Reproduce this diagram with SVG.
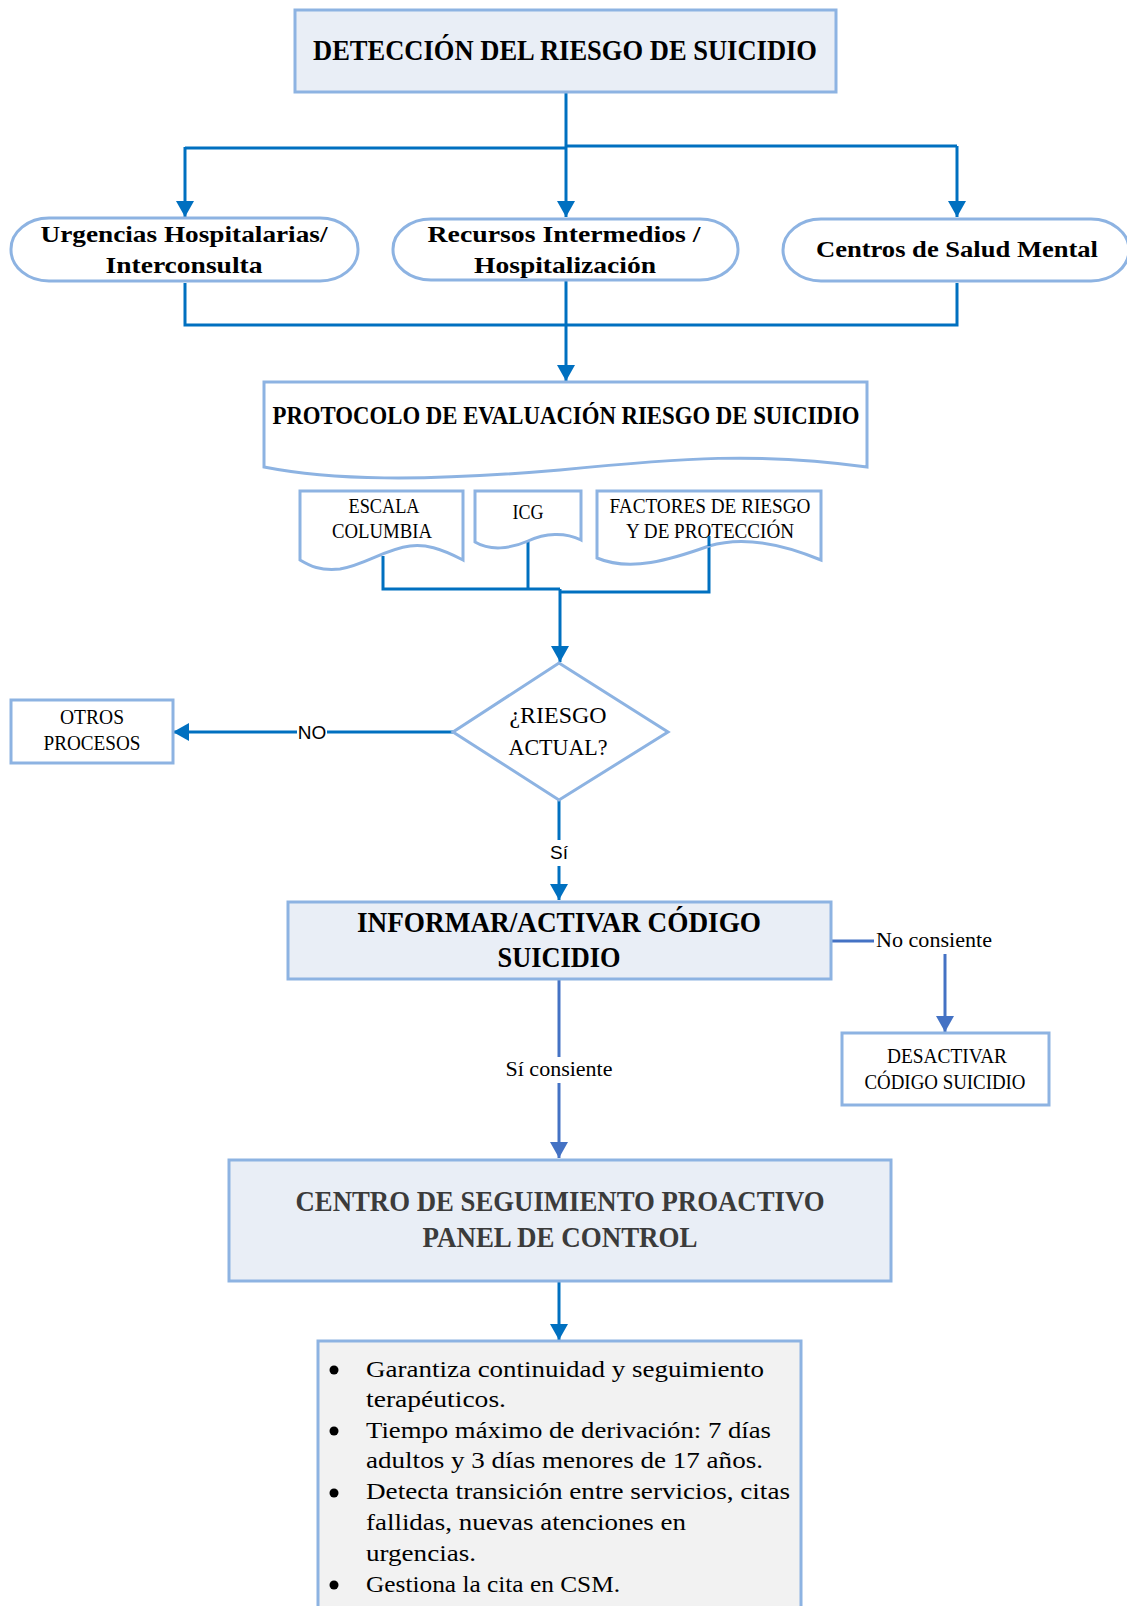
<svg xmlns="http://www.w3.org/2000/svg" width="1127" height="1606" viewBox="0 0 1127 1606">
<style>
  .node{stroke:#8db3e2;stroke-width:3;fill:#ffffff}
  .fillb{fill:#e9eef6}
  .fillg{fill:#f2f2f2}
  .t{font-family:"Liberation Serif","Times New Roman",serif;fill:#000;text-anchor:middle}
  .b{font-weight:bold}
  .l{text-anchor:start}
  .s{font-family:"Liberation Sans",Arial,sans-serif;fill:#000;text-anchor:middle}
  .c{fill:none;stroke:#0070c0;stroke-width:3}
  .c2{fill:none;stroke:#4472c4;stroke-width:3}
</style>
<defs>
  <marker id="a" viewBox="0 0 16 18" refX="16" refY="9" markerWidth="16" markerHeight="18" markerUnits="userSpaceOnUse" orient="auto">
    <path d="M0,0 L16,9 L0,18 z" fill="#0070c0"/>
  </marker>
  <marker id="a2" viewBox="0 0 16 18" refX="16" refY="9" markerWidth="16" markerHeight="18" markerUnits="userSpaceOnUse" orient="auto">
    <path d="M0,0 L16,9 L0,18 z" fill="#4472c4"/>
  </marker>
</defs>

<g id="connectors">
  <path class="c" d="M566,92 V147"/>
  <path class="c" d="M185,148 H566"/>
  <path class="c" d="M566,146 H957"/>
  <path class="c" d="M185,147 V217" marker-end="url(#a)"/>
  <path class="c" d="M566,147 V217" marker-end="url(#a)"/>
  <path class="c" d="M957,146 V217" marker-end="url(#a)"/>
  <path class="c" d="M185,283 V325 H957 V283"/>
  <path class="c" d="M566,281 V381" marker-end="url(#a)"/>
  <path class="c" d="M383,556 V589 H560"/>
  <path class="c" d="M528,541 V589"/>
  <path class="c" d="M709,536 V592 H560"/>
  <path class="c" d="M560,589 V662" stroke-width="4.5" marker-end="url(#a)"/>
  <path class="c" d="M453,732 H173" marker-end="url(#a)"/>
  <path class="c" d="M559,800 V900" marker-end="url(#a)"/>
  <path class="c2" d="M831,941 H874"/>
  <path class="c2" d="M945,954 V1032" marker-end="url(#a2)"/>
  <path class="c2" d="M559,979 V1158" marker-end="url(#a2)"/>
  <path class="c" d="M559,1281 V1340" marker-end="url(#a)"/>
  <rect x="297" y="718" width="30" height="24" fill="#fff"/>
  <text class="s" x="312" y="739" font-size="19">NO</text>
  <rect x="548" y="840" width="22" height="26" fill="#fff"/>
  <text class="s" x="559" y="859" font-size="19">Sí</text>
  <text class="t l" x="876" y="947" font-size="20" textLength="116" lengthAdjust="spacingAndGlyphs">No consiente</text>
  <rect x="502" y="1057" width="114" height="26" fill="#fff"/>
  <text class="t" x="559" y="1076" font-size="20" textLength="107" lengthAdjust="spacingAndGlyphs">Sí consiente</text>
</g>

<g id="n-deteccion">
  <rect class="node fillb" x="295" y="10" width="541" height="82"/>
  <text class="t b" x="565" y="60" font-size="29" textLength="504" lengthAdjust="spacingAndGlyphs">DETECCIÓN DEL RIESGO DE SUICIDIO</text>
</g>

<g id="n-urgencias">
  <rect class="node" x="11" y="218" width="347" height="63" rx="38" ry="31" stroke-width="4"/>
  <text class="t b" x="184" y="242" font-size="24" textLength="287" lengthAdjust="spacingAndGlyphs">Urgencias Hospitalarias/</text>
  <text class="t b" x="184" y="273" font-size="24" textLength="157" lengthAdjust="spacingAndGlyphs">Interconsulta</text>
</g>

<g id="n-recursos">
  <rect class="node" x="393" y="219" width="345" height="61" rx="38" ry="30"/>
  <text class="t b" x="564" y="242" font-size="24" textLength="273" lengthAdjust="spacingAndGlyphs">Recursos Intermedios /</text>
  <text class="t b" x="565" y="273" font-size="24" textLength="182" lengthAdjust="spacingAndGlyphs">Hospitalización</text>
</g>

<g id="n-centros">
  <rect class="node" x="783" y="219" width="346" height="62" rx="38" ry="31"/>
  <text class="t b" x="957" y="257" font-size="24" textLength="282" lengthAdjust="spacingAndGlyphs">Centros de Salud Mental</text>
</g>

<g id="n-protocolo">
  <path class="node" d="M264,382 H867 V467 C760,452 680,458 560,470 C420,482 330,480 264,467 Z"/>
  <text class="t b" x="566" y="424" font-size="25" textLength="587" lengthAdjust="spacingAndGlyphs">PROTOCOLO DE EVALUACIÓN RIESGO DE SUICIDIO</text>
</g>

<g id="n-escala">
  <path class="node" d="M300,491 H463 V560 C440,548 425,544 410,546 C385,549 365,565 340,569 C320,571 310,566 300,560 Z"/>
  <text class="t" x="384" y="513" font-size="20" textLength="71" lengthAdjust="spacingAndGlyphs">ESCALA</text>
  <text class="t" x="382" y="538" font-size="20" textLength="100" lengthAdjust="spacingAndGlyphs">COLUMBIA</text>
</g>

<g id="n-icg">
  <path class="node" d="M475,491 H581 V540 C565,532 545,533 528,541 C510,549 490,551 475,542 Z"/>
  <text class="t" x="528" y="519" font-size="20" textLength="31" lengthAdjust="spacingAndGlyphs">ICG</text>
</g>

<g id="n-factores">
  <path class="node" d="M597,491 H821 V560 C785,545 745,535 709,546 C670,560 630,572 597,558 Z"/>
  <text class="t" x="710" y="513" font-size="20" textLength="201" lengthAdjust="spacingAndGlyphs">FACTORES DE RIESGO</text>
  <text class="t" x="710" y="538" font-size="20" textLength="168" lengthAdjust="spacingAndGlyphs">Y DE PROTECCIÓN</text>
</g>
<path class="c" d="M709,536 V546"/>

<g id="n-riesgo">
  <polygon class="node" points="559,663 668,732 559,800 453,732"/>
  <text class="t" x="558" y="723" font-size="24" textLength="97" lengthAdjust="spacingAndGlyphs">¿RIESGO</text>
  <text class="t" x="558" y="755" font-size="24" textLength="99" lengthAdjust="spacingAndGlyphs">ACTUAL?</text>
</g>

<g id="n-otros">
  <rect class="node" x="11" y="700" width="162" height="63"/>
  <text class="t" x="92" y="724" font-size="20" textLength="64" lengthAdjust="spacingAndGlyphs">OTROS</text>
  <text class="t" x="92" y="750" font-size="20" textLength="97" lengthAdjust="spacingAndGlyphs">PROCESOS</text>
</g>

<g id="n-informar">
  <rect class="node fillb" x="288" y="902" width="543" height="77"/>
  <text class="t b" x="559" y="932" font-size="30" textLength="404" lengthAdjust="spacingAndGlyphs">INFORMAR/ACTIVAR CÓDIGO</text>
  <text class="t b" x="559" y="967" font-size="30" textLength="123" lengthAdjust="spacingAndGlyphs">SUICIDIO</text>
</g>

<g id="n-desactivar">
  <rect class="node" x="842" y="1033" width="207" height="72"/>
  <text class="t" x="947" y="1063" font-size="20" textLength="120" lengthAdjust="spacingAndGlyphs">DESACTIVAR</text>
  <text class="t" x="945" y="1089" font-size="20" textLength="161" lengthAdjust="spacingAndGlyphs">CÓDIGO SUICIDIO</text>
</g>

<g id="n-centro">
  <rect class="node fillb" x="229" y="1160" width="662" height="121"/>
  <text class="t b" x="560" y="1211" font-size="30" style="fill:#3b3b3b" textLength="529" lengthAdjust="spacingAndGlyphs">CENTRO DE SEGUIMIENTO PROACTIVO</text>
  <text class="t b" x="560" y="1247" font-size="30" style="fill:#3b3b3b" textLength="275" lengthAdjust="spacingAndGlyphs">PANEL DE CONTROL</text>
</g>

<g id="n-lista">
  <rect class="node fillg" x="318" y="1341" width="483" height="290"/>
  <circle cx="334" cy="1370" r="4.5" fill="#000"/>
  <circle cx="334" cy="1431" r="4.5" fill="#000"/>
  <circle cx="334" cy="1493" r="4.5" fill="#000"/>
  <circle cx="334" cy="1585" r="4.5" fill="#000"/>
  <text class="t l" x="366" y="1377" font-size="24" textLength="398" lengthAdjust="spacingAndGlyphs">Garantiza continuidad y seguimiento</text>
  <text class="t l" x="366" y="1407" font-size="24" textLength="140" lengthAdjust="spacingAndGlyphs">terapéuticos.</text>
  <text class="t l" x="366" y="1438" font-size="24" textLength="405" lengthAdjust="spacingAndGlyphs">Tiempo máximo de derivación: 7 días</text>
  <text class="t l" x="366" y="1468" font-size="24" textLength="397" lengthAdjust="spacingAndGlyphs">adultos y 3 días menores de 17 años.</text>
  <text class="t l" x="366" y="1499" font-size="24" textLength="424" lengthAdjust="spacingAndGlyphs">Detecta transición entre servicios, citas</text>
  <text class="t l" x="366" y="1530" font-size="24" textLength="320" lengthAdjust="spacingAndGlyphs">fallidas, nuevas atenciones en</text>
  <text class="t l" x="366" y="1561" font-size="24" textLength="110" lengthAdjust="spacingAndGlyphs">urgencias.</text>
  <text class="t l" x="366" y="1592" font-size="24" textLength="254" lengthAdjust="spacingAndGlyphs">Gestiona la cita en CSM.</text>
</g>
</svg>
